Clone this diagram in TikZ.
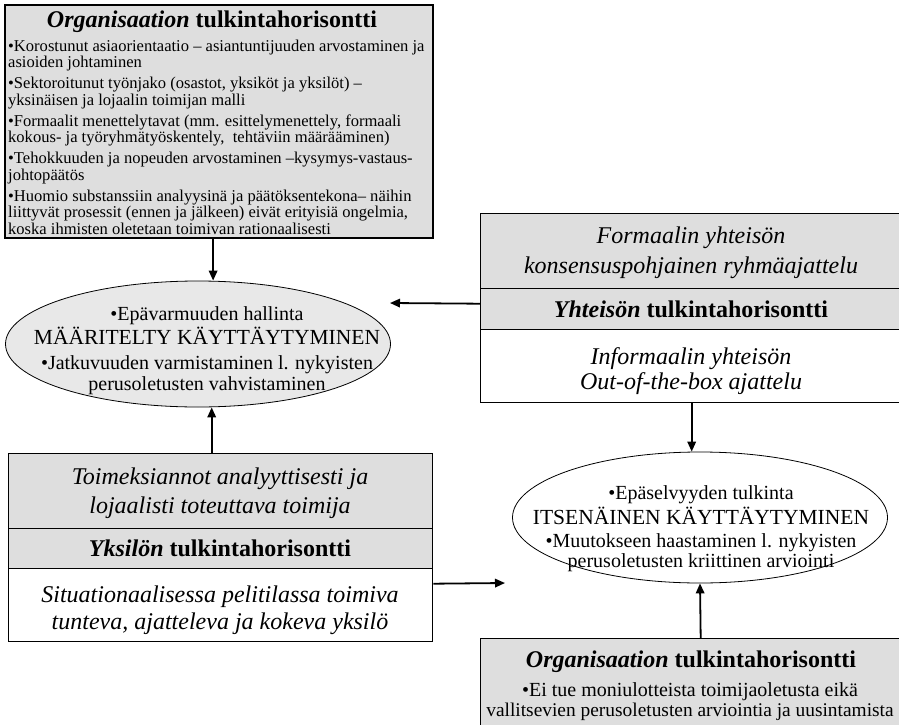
\documentclass[tikz,border=0pt]{standalone}
\usepackage{fontspec}
\setmainfont{Liberation Serif}
\usetikzlibrary{shapes.geometric,arrows.meta}
\definecolor{panelgray}{gray}{0.87}
\definecolor{ovalgray}{gray}{0.91}
\begin{document}
\begin{tikzpicture}[x=1pt,y=-1pt,
  panel/.style={draw=black,line width=1.4pt,inner sep=0pt,anchor=north west,minimum width=#1},
  shaded/.style={panel=#1,fill=panelgray},
  plain/.style={panel=#1,fill=white},
  oval/.style={ellipse,draw=black,line width=0.8pt,inner sep=0pt},
  flow/.style={line width=1.8pt,-{Triangle[length=10pt,width=8.5pt]}},
  heading/.style={font=\fontsize{24}{26}\selectfont\bfseries,anchor=base,inner sep=0pt},
  phrase/.style={font=\fontsize{24}{26}\selectfont\itshape,anchor=base,inner sep=0pt},
  ovalsmall/.style={font=\fontsize{20}{22}\selectfont,anchor=base,inner sep=0pt},
  ovalbig/.style={font=\fontsize{21.5}{24}\selectfont,anchor=base,inner sep=0pt},
]
\useasboundingbox (0,0) rectangle (899,725);

% organisation panel, top left
\node[shaded=428pt,line width=2.2pt,minimum height=233pt] (orgbox) at (4,4) {};
\node[heading] (orgtitle) at (212,28) {\textit{Organisaation} tulkintahorisontti};
\node[anchor=north west,align=left,inner sep=0pt,font=\fontsize{16.55}{16.3}\selectfont] (orgbody) at (8,39.5)
 {•Korostunut asiaorientaatio – asiantuntijuuden arvostaminen ja\\
  asioiden johtaminen\\[5pt]
  •Sektoroitunut työnjako (osastot, yksiköt ja yksilöt) –\\
  yksinäisen ja lojaalin toimijan malli\\[5pt]
  •Formaalit menettelytavat (mm. esittelymenettely, formaali\\
  kokous- ja työryhmätyöskentely, \ tehtäviin määrääminen)\\[5pt]
  •Tehokkuuden ja nopeuden arvostaminen –kysymys-vastaus-\\
  johtopäätös\\[5pt]
  •Huomio substanssiin analyysinä ja päätöksentekona– näihin\\
  liittyvät prosessit (ennen ja jälkeen) eivät erityisiä ongelmia,\\
  koska ihmisten oletetaan toimivan rationaalisesti};

% community panel, right
\node[shaded=422pt,minimum height=75pt] (comm1) at (480,213) {};
\node[shaded=422pt,minimum height=41pt] (comm2) at (480,288) {};
\node[plain=422pt,minimum height=73pt] (comm3) at (480,329) {};
\node[phrase] (comm1a) at (691,243) {Formaalin yhteisön};
\node[phrase] (comm1b) at (691,273) {konsensuspohjainen ryhmäajattelu};
\node[heading] (comm2t) at (691,317) {\textit{Yhteisön} tulkintahorisontti};
\node[phrase] (comm3a) at (691,364) {Informaalin yhteisön};
\node[phrase] (comm3b) at (691,389) {Out-of-the-box ajattelu};

% individual panel, bottom left
\node[shaded=424pt,minimum height=75pt] (indiv1) at (8,453) {};
\node[shaded=424pt,minimum height=40pt] (indiv2) at (8,528) {};
\node[plain=424pt,minimum height=73pt] (indiv3) at (8,568) {};
\node[phrase] (indiv1a) at (220,484) {Toimeksiannot analyyttisesti ja};
\node[phrase] (indiv1b) at (220,513) {lojaalisti toteuttava toimija};
\node[heading] (indiv2t) at (220,556) {\textit{Yksilön} tulkintahorisontti};
\node[phrase] (indiv3a) at (220,602) {Situationaalisessa pelitilassa toimiva};
\node[phrase] (indiv3b) at (220,629) {tunteva, ajatteleva ja kokeva yksilö};

% organisation panel, bottom right
\node[shaded=422pt,minimum height=92pt] (orgbr) at (480,638) {};
\node[heading] (orgbrt) at (691,667) {\textit{Organisaation} tulkintahorisontti};
\node[ovalsmall] (orgbra) at (690,696) {•Ei tue moniulotteista toimijaoletusta eikä};
\node[ovalsmall,font=\fontsize{19.4}{22}\selectfont] (orgbrb) at (690,716) {vallitsevien perusoletusten arviointia ja uusintamista};

% defined behaviour
\node[oval,fill=ovalgray,minimum width=385pt,minimum height=126pt] (defined) at (198,344) {};
\node[ovalsmall] (def1) at (207,320) {•Epävarmuuden hallinta};
\node[ovalbig] (def2) at (207,344) {MÄÄRITELTY KÄYTTÄYTYMINEN};
\node[ovalsmall] (def3) at (207,369) {•Jatkuvuuden varmistaminen l. nykyisten};
\node[ovalsmall] (def4) at (207,390) {perusoletusten vahvistaminen};

% independent behaviour
\node[oval,fill=white,minimum width=375pt,minimum height=131pt] (indep) at (700,517.5) {};
\node[ovalsmall] (ind1) at (701,499) {•Epäselvyyden tulkinta};
\node[ovalbig] (ind2) at (701,524) {ITSENÄINEN KÄYTTÄYTYMINEN};
\node[ovalsmall] (ind3) at (701,547) {•Muutokseen haastaminen l. nykyisten};
\node[ovalsmall] (ind4) at (701,567) {perusoletusten kriittinen arviointi};

% loose arrow ends
\coordinate (defin) at (390,303);
\coordinate (indepin) at (505,583);

% connectors
\draw[flow] ([xshift=-6pt]orgbox.south) -- ([xshift=-6pt]orgbox.south |- defined.north);
\draw[flow] ([xshift=-9pt]indiv1.north) -- ([xshift=-9pt]indiv1.north |- defined.south);
\draw[flow] ([yshift=5.5pt]comm2.west) -- (defin);
\draw[flow] ([yshift=21.5pt]indiv3.east) -- (indepin);
\draw[flow] (comm3.south) -- (comm3.south |- indep.north);
\draw[flow] ([xshift=9pt]orgbr.north) -- (indep.south);
\end{tikzpicture}
\end{document}
